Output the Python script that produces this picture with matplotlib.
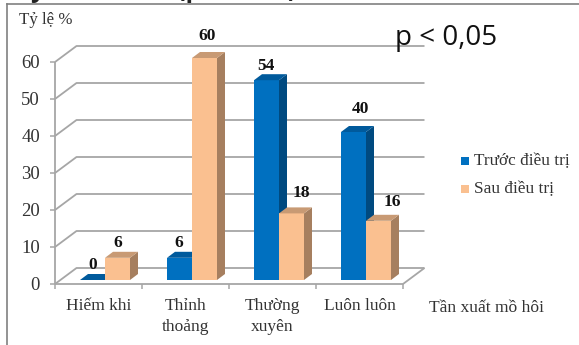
import matplotlib
matplotlib.use("Agg")
import matplotlib.pyplot as plt
from matplotlib.patches import Polygon, Rectangle

categories = ["Hiếm khi", "Thỉnh\nthoảng", "Thường\nxuyên", "Luôn luôn"]
before = [0, 6, 54, 40]
after = [6, 60, 18, 16]
yticks = [0, 10, 20, 30, 40, 50, 60]

# nudges for the value labels in pixels (right, up from the bar top)
before_nudge = [(0, 15), (-1, 14.5), (-1, 14), (7, 23)]
after_nudge = [(0, 14.5), (2.5, 22), (10, 20.5), (14, 18.5)]

W, H = 579, 345
BLUE = "#0070c0"
BLUE_SIDE = "#004a80"
BLUE_TOP = "#005a9c"
ORANGE = "#fac090"
ORANGE_SIDE = "#a67f5f"
ORANGE_TOP = "#c89a74"
GRID = "#a6a6a6"
TEXT = "#333333"

plt.rcParams["font.family"] = ["Liberation Serif", "DejaVu Serif"]

fig = plt.figure(figsize=(W / 100, H / 100), dpi=100)
ax = fig.add_axes([55 / W, (H - 284) / H, 348 / W, 222 / H])
ax.set_xlim(0, 4)
ax.set_ylim(0, 60)
ax.axis("off")

# one pixel in data units, used for the fake 3d offsets
px = 4 / 348
py = 60 / 222
wall_dx, wall_dy = 21.5 * px, 16 * py
depth_dx, depth_dy = 8 * px, 6 * py
base_y = 4 * py
bar_w = 25 * px
group_shift = 6.5 * px


def line(xs, ys, color=GRID, lw=1.3, z=1):
    ax.plot(xs, ys, color=color, lw=lw, zorder=z, clip_on=False, solid_capstyle="butt")


# back wall gridlines and the slanted part on the left side
for v in yticks:
    line([0, wall_dx, 4 + wall_dx], [v, v + wall_dy, v + wall_dy])
    line([-5 * px, 0], [v, v], lw=1.1)
line([0, 0], [0, 60])

# floor
line([0, 4, 4 + wall_dx], [0, 0, wall_dy])
for i in range(5):
    line([i, i], [0, -5 * py], lw=1.1)


def bar3d(x, v, front, side, top):
    ax.bar(x, v, bar_w, bottom=base_y, color=front, align="edge", zorder=3, clip_on=False)
    y0, y1 = base_y, base_y + v
    ax.add_patch(Polygon([(x + bar_w, y0), (x + bar_w + depth_dx, y0 + depth_dy),
                          (x + bar_w + depth_dx, y1 + depth_dy), (x + bar_w, y1)],
                         color=side, lw=0, zorder=2, clip_on=False))
    ax.add_patch(Polygon([(x, y1), (x + depth_dx, y1 + depth_dy),
                          (x + bar_w + depth_dx, y1 + depth_dy), (x + bar_w, y1)],
                         color=top, lw=0, zorder=3, clip_on=False))


def value_label(x, v, nudge):
    ax.text(x + bar_w / 2 + nudge[0] * px, v + base_y + nudge[1] * py, str(v), ha="center", va="center",
            fontsize=12.5, fontweight="bold", color="#111111", zorder=5)


for i in range(len(categories)):
    x_b = i + 0.5 + group_shift - bar_w
    x_a = i + 0.5 + group_shift
    bar3d(x_b, before[i], BLUE, BLUE_SIDE, BLUE_TOP)
    bar3d(x_a, after[i], ORANGE, ORANGE_SIDE, ORANGE_TOP)
    value_label(x_b, before[i], before_nudge[i])
    value_label(x_a, after[i], after_nudge[i])
    ax.text(i + 0.5, -14 * py, categories[i], ha="center", va="top", fontsize=12.5,
            color=TEXT, linespacing=1.45)

for v in yticks:
    ax.text(-15 * px, v - 1.5 * py, str(v), ha="right", va="center", fontsize=13.5, color=TEXT)

# outer frame, only the top and left edges are in view
fig.add_artist(plt.Line2D([7 / W, 7 / W], [0, 1 - 4 / H], color="#808080", lw=1.2))
fig.add_artist(plt.Line2D([7 / W, 1], [1 - 4 / H, 1 - 4 / H], color="#808080", lw=1.2))

# bits of the heading line that hang over the top edge
for x, s in [(31, "y"), (177, "(p"), (248, ","), (287, ")")]:
    fig.text(x / W, 1 + 3 / H, s, ha="left", va="baseline", fontsize=18, fontweight="bold",
             color="#222222", family=["Open Sans", "DejaVu Sans"])

fig.text(19 / W, 1 - 20 / H, "Tỷ lệ %", ha="left", va="center", fontsize=12.2, color=TEXT)
fig.text(429 / W, 1 - 308 / H, "Tần xuất mồ hôi", ha="left", va="center", fontsize=12.6, color=TEXT)
fig.text(395 / W, 1 - 38 / H, "p < 0,05", ha="left", va="center", fontsize=20, color="#111111",
         family=["Open Sans", "DejaVu Sans"])

# legend
for y, col, lab in [(161, BLUE, "Trước điều trị"), (189, ORANGE, "Sau điều trị")]:
    fig.add_artist(Rectangle((461 / W, 1 - (y + 4) / H), 8 / W, 8 / H, color=col, lw=0,
                             transform=fig.transFigure))
    fig.text(474 / W, 1 - y / H, lab, ha="left", va="center", fontsize=12.4, color=TEXT)

fig.savefig("out.png", dpi=100)
